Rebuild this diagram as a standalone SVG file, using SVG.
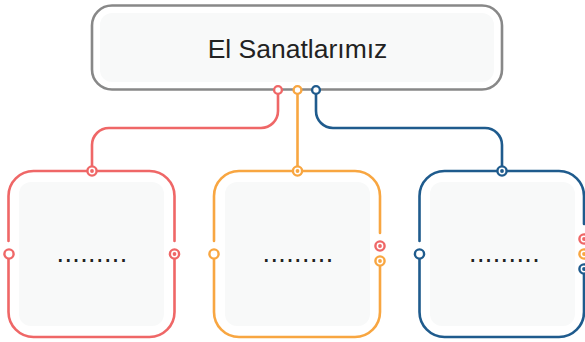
<svg xmlns="http://www.w3.org/2000/svg" width="585" height="342" viewBox="0 0 585 342">
<style>
.frame{fill:none;stroke-width:2.6;stroke-linecap:round}
.inner{fill:#f8f9f9}
.ring{fill:#fff;stroke-width:2.4}
.dot{stroke:none}
.lbl{font-family:"Liberation Sans",Arial,sans-serif;fill:#222}
.dots{font-family:"Liberation Sans",Arial,sans-serif;fill:#222;font-size:27px;letter-spacing:0.4px}
.red{stroke:#ef6767}
.org{stroke:#f8a641}
.blu{stroke:#1f5b8d}
.fr{fill:#ef6767}
.fo{fill:#f8a641}
.fb{fill:#1f5b8d}
</style>
<g id="connectors" fill="none" stroke-width="2.6">
<path class="red" d="M278,94 V111 A17,17 0 0 1 261,128 H109 A17,17 0 0 0 92,145 V166"/>
<path class="org" d="M297.5,94 V166"/>
<path class="blu" d="M316,94 V111 A17,17 0 0 0 333,128 H485 A17,17 0 0 1 502,145 V166"/>
</g>
<g id="root">
<rect x="92" y="5.5" width="410" height="84" rx="20" fill="#fff" stroke="#888" stroke-width="2.6"/>
<rect class="inner" x="100" y="13" width="394" height="69" rx="12"/>
<text class="lbl" x="297.5" y="58" font-size="26.5" text-anchor="middle">El Sanatlarımız</text>
<circle class="ring red" cx="278" cy="90" r="3.9"/>
<circle class="ring org" cx="297.5" cy="90" r="3.9"/>
<circle class="ring blu" cx="316" cy="90" r="3.9"/>
</g>
<g id="node-red">
<rect class="inner" x="19" y="182" width="145" height="144" rx="12"/>
<path class="frame red" d="M8.5,259 V312 A25,25 0 0 0 33.5,337 H149.5 A25,25 0 0 0 174.5,312 V259 M174.5,241 V196 A25,25 0 0 0 149.5,171 H33.5 A25,25 0 0 0 8.5,196 V241"/>
<circle class="ring red" cx="92" cy="171" r="4.6"/><circle class="dot fr" cx="92" cy="171" r="1.9"/>
<circle class="ring red" cx="9" cy="254" r="4.6"/>
<circle class="ring red" cx="174.5" cy="254" r="4.6"/><circle class="dot fr" cx="174.5" cy="254" r="1.9"/>
<text class="dots" x="56.5" y="262">.........</text>
</g>
<g id="node-orange">
<rect class="inner" x="225" y="182" width="145" height="144" rx="12"/>
<path class="frame org" d="M214,259 V312 A25,25 0 0 0 239,337 H355 A25,25 0 0 0 380,312 V266 M380,233 V196 A25,25 0 0 0 355,171 H239 A25,25 0 0 0 214,196 V241"/>
<circle class="ring org" cx="297.5" cy="171" r="4.6"/><circle class="dot fo" cx="297.5" cy="171" r="1.9"/>
<circle class="ring org" cx="214" cy="254" r="4.6"/>
<circle class="ring red" cx="380" cy="246" r="4.6"/><circle class="dot fr" cx="380" cy="246" r="1.9"/>
<circle class="ring org" cx="380" cy="261" r="4.6"/><circle class="dot fo" cx="380" cy="261" r="1.9"/>
<text class="dots" x="262.5" y="262">.........</text>
</g>
<g id="node-blue">
<rect class="inner" x="430" y="182" width="145" height="144" rx="12"/>
<path class="frame blu" d="M419.5,259 V312 A25,25 0 0 0 444.5,337 H559 A25,25 0 0 0 584,312 V274 M584,224 V196 A25,25 0 0 0 559,171 H444.5 A25,25 0 0 0 419.5,196 V241"/>
<circle class="ring blu" cx="502" cy="171" r="4.6"/><circle class="dot fb" cx="502" cy="171" r="1.9"/>
<circle class="ring blu" cx="419.5" cy="254" r="4.6"/>
<circle class="ring red" cx="584" cy="239" r="4.6"/><circle class="dot fr" cx="584" cy="239" r="1.9"/>
<circle class="ring org" cx="584" cy="254" r="4.6"/><circle class="dot fo" cx="584" cy="254" r="1.9"/>
<circle class="ring blu" cx="584" cy="269" r="4.6"/><circle class="dot fb" cx="584" cy="269" r="1.9"/>
<text class="dots" x="469" y="262">.........</text>
</g>
</svg>
